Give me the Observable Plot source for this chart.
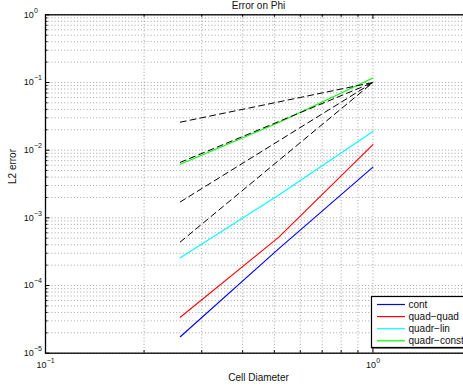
<!DOCTYPE html>
<html><head><meta charset="utf-8">
<script src="https://cdn.jsdelivr.net/npm/d3@7"></script>
<script src="https://cdn.jsdelivr.net/npm/@observablehq/plot@0.6"></script>
<style>
html,body{margin:0;padding:0;background:#fff;overflow:hidden}
#wrap{position:relative;width:463px;height:387px;overflow:hidden;font-family:"Liberation Sans",Arial,Helvetica,sans-serif}
#wrap svg{overflow:hidden}
</style></head><body><div id="wrap"></div>
<script>
// ---- data ----
const cellDiameter = [0.258, 0.516, 1.0];
const seriesNames = ["cont", "quad\u2212quad", "quadr\u2212lin", "quadr\u2212const"];
const seriesColors = ["#0000ff", "#ff0000", "#00ffff", "#00ff00"];
const cont = [1.75e-5, 3.5e-4, 5.6e-3];
const quadQuad = [3.4e-5, 5.2e-4, 1.21e-2];
const quadrLin = [2.57e-4, 2.17e-3, 1.89e-2];
const quadrConst = [6.2e-3, 2.57e-2, 0.116];

const refDiameter = [0.258, 1.0];
const refOrder1 = [0.0259, 0.1];
const refOrder2 = [0.0066, 0.1];
const refOrder3 = [0.00172, 0.1];
const refOrder4 = [0.00044, 0.1];

const xMajorTicks = [0.1, 1];
const xTickExponents = ["\u22121", "0"];
const xMinorTicks = [0.2, 0.3, 0.4, 0.5, 0.6, 0.7, 0.8, 0.9, 2];
const yMajorTicks = [1e-5, 1e-4, 1e-3, 1e-2, 1e-1, 1];
const yTickExponents = ["\u22125", "\u22124", "\u22123", "\u22122", "\u22121", "0"];
const minorMultipliers = [2, 3, 4, 5, 6, 7, 8, 9];

const titleText = "Error on Phi";
const xLabel = "Cell Diameter";
const yLabel = "L2 error";

// ---- build tables ----
const seriesValues = [cont, quadQuad, quadrLin, quadrConst];
const lineData = seriesValues.flatMap((vals, i) =>
  vals.map((v, j) => ({d: cellDiameter[j], v, s: seriesNames[i], c: seriesColors[i]})));
const refs = [refOrder1, refOrder2, refOrder3, refOrder4];
const refData = refs.flatMap((vals, i) => vals.map((v, j) => ({d: refDiameter[j], v, k: i})));
const yMinorTicks = yMajorTicks.slice(0, -1).flatMap(t => minorMultipliers.map(m => t * m));

const pTop = 14.3, pBottom = 352.7, pLeft = 45, pRight = 471;
const plotH = pBottom - pTop, plotW = pRight - pLeft;
const majorLen = 4.5, minorLen = 2.5;
const gridStyle = {stroke: "#666", strokeWidth: 0.6, strokeDasharray: "1,2.2"};

const expWidth = e => e.length === 1 ? 3.9 : 8;

const marks = [
  Plot.ruleX([...xMajorTicks, ...xMinorTicks], {x: d => d, ...gridStyle}),
  Plot.ruleY([...yMajorTicks, ...yMinorTicks], {y: d => d, ...gridStyle}),
  Plot.line(lineData, {x: "d", y: "v", z: "s", stroke: "c", strokeWidth: 1.1}),
  Plot.line(refData, {x: "d", y: "v", z: "k", stroke: "#000", strokeWidth: 1, strokeDasharray: "6,4"}),
  // ticks (inward)
  Plot.tickX(xMajorTicks, {x: d => d, insetTop: plotH - majorLen, stroke: "#000"}),
  Plot.tickX(xMajorTicks, {x: d => d, insetBottom: plotH - majorLen, stroke: "#000"}),
  Plot.tickX(xMinorTicks, {x: d => d, insetTop: plotH - minorLen, stroke: "#000"}),
  Plot.tickX(xMinorTicks, {x: d => d, insetBottom: plotH - minorLen, stroke: "#000"}),
  Plot.tickY(yMajorTicks, {y: d => d, insetRight: plotW - majorLen, stroke: "#000"}),
  Plot.tickY(yMinorTicks, {y: d => d, insetRight: plotW - minorLen, stroke: "#000"}),
  Plot.frame({stroke: "#000", strokeWidth: 1.3}),
  // y tick labels
  Plot.text(yMajorTicks, {x: 0.1, y: d => d, text: () => "10", textAnchor: "end", dx: -11.7, fontSize: 9, fill: "#111"}),
  Plot.text(yMajorTicks, {x: 0.1, y: d => d, text: (d, i) => yTickExponents[i], textAnchor: "start", dx: -11.5, dy: -4.5, fontSize: 7, fill: "#111"}),
  // x tick labels
  ...xMajorTicks.flatMap((t, i) => [
    Plot.text([t], {x: d => d, y: 1e-5, text: () => "10", textAnchor: "end", dx: 5 - expWidth(xTickExponents[i]) / 2, dy: 12, fontSize: 9, fill: "#111"}),
    Plot.text([t], {x: d => d, y: 1e-5, text: () => xTickExponents[i], textAnchor: "start", dx: 5.2 - expWidth(xTickExponents[i]) / 2, dy: 7.5, fontSize: 7, fill: "#111"})
  ]),
  // titles
  Plot.text([titleText], {frameAnchor: "top", lineAnchor: "bottom", dy: -6.3, fontSize: 10, fill: "#111"}),
  Plot.text([xLabel], {frameAnchor: "bottom", lineAnchor: "bottom", dy: 27.5, fontSize: 10, fill: "#111"}),
  Plot.text([yLabel], {frameAnchor: "left", rotate: -90, dx: -33, fontSize: 10, fill: "#111"})
];

const chart = Plot.plot({
  width: 463, height: 387,
  marginLeft: pLeft, marginTop: pTop, marginBottom: 387 - pBottom, marginRight: 463 - pRight,
  x: {type: "log", domain: [0.1, 2], range: [pLeft, pRight], axis: null},
  y: {type: "log", domain: [1e-5, 1], range: [pBottom, pTop], axis: null},
  color: {type: "identity"},
  style: {fontFamily: "'Liberation Sans', Arial, Helvetica, sans-serif", fontSize: "10px", background: "transparent"},
  marks
});
const wrap = document.getElementById("wrap");
wrap.append(chart);

// legend (inside the SVG)
const svg = d3.select(chart.tagName.toLowerCase() === "svg" ? chart : chart.querySelector("svg"));
const lg = svg.append("g").attr("transform", "translate(371.5,296.5)").attr("text-anchor", "start");
lg.append("rect").attr("x", 0).attr("y", 0).attr("width", 120).attr("height", 51)
  .attr("fill", "#fff").attr("stroke", "#000").attr("stroke-width", 1.2);
lg.append("line").attr("x1", 0).attr("x2", 120).attr("y1", 51.3).attr("y2", 51.3)
  .attr("stroke", "#000").attr("stroke-width", 1.2);
seriesNames.forEach((n, i) => {
  const yy = 8 + i * 12.1;
  lg.append("line").attr("x1", 5.5).attr("x2", 33.5).attr("y1", yy).attr("y2", yy)
    .attr("stroke", seriesColors[i]).attr("stroke-width", 1.2);
  lg.append("text").attr("x", 37).attr("y", yy).attr("dy", "0.35em").attr("text-anchor", "start")
    .attr("font-size", 10).attr("fill", "#111").text(n);
});
</script></body></html>
